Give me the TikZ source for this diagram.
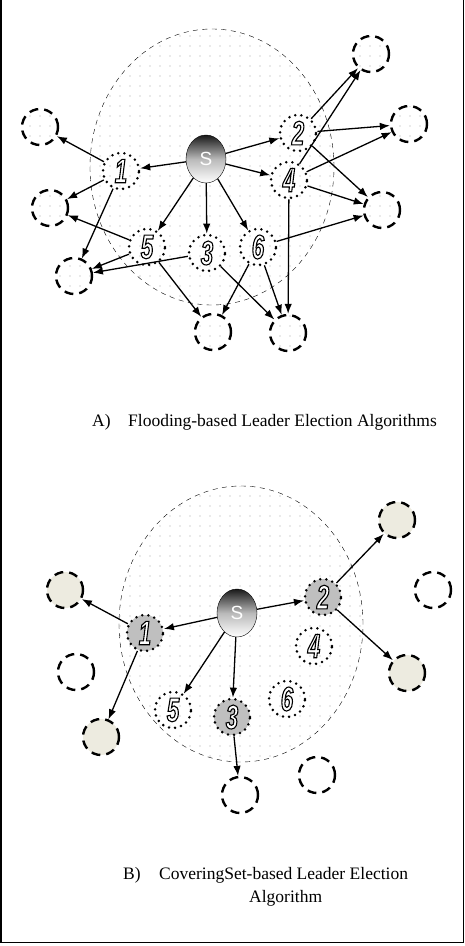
\documentclass[tikz,border=0pt]{standalone}
\usepackage{fontspec}
\setmainfont{Liberation Serif}
\newfontfamily\digitfont[FakeStretch=0.65]{Liberation Sans}
\newfontfamily\labelfont{Liberation Sans}
\usepackage{xcolor}
\usepackage{tikz}
\usetikzlibrary{shapes.geometric,arrows.meta,patterns.meta}

\definecolor{covered}{RGB}{237,235,224}
% outlined digit: white fill, black stroke
\newcommand{\digitmark}[1]{\special{pdf:literal direct 2 Tr 1.1 w 0 G}#1\special{pdf:literal direct 0 Tr}}

\begin{document}
\begin{tikzpicture}[
  x=1pt, y=-1pt,
  zone/.style={draw,ellipse,thin,dash pattern=on 5pt off 4.5pt,pattern={Dots[distance=10pt,radius=0.6pt]},pattern color=gray!70,minimum width=244pt,minimum height=276pt},
  source/.style={draw,ellipse,thin,minimum width=40pt,minimum height=48pt,inner sep=0pt,top color=black!90,bottom color=white,middle color=gray!55,text=white,font=\labelfont\fontsize{19}{19}\selectfont},
  relay/.style={draw,circle,line width=2.8pt,line cap=round,dash pattern=on 0pt off 6.2pt,minimum size=36pt,inner sep=0pt,text=white,font=\digitfont\bfseries\itshape\fontsize{34}{34}\selectfont},
  selected/.style={relay,fill=gray!50},
  far/.style={draw,circle,line width=2.4pt,dash pattern=on 9pt off 6pt,minimum size=36pt,inner sep=0pt},
  farA/.style={far,pattern={Dots[distance=10pt,radius=0.6pt]},pattern color=gray!70},
  reached/.style={far,fill=covered},
  arrow/.style={-{Latex[length=10pt,width=7.5pt]},line width=1.3pt},
  caption/.style={font=\fontsize{17.5}{21}\selectfont,inner sep=0pt,anchor=base west},
  frame/.style={line width=1.5pt},
]
\useasboundingbox (0,0) rectangle (465,946);
\draw[frame] (0.75,0) -- (0.75,942.5) -- (463.5,942.5) -- (463.5,0);

% A) flooding
\node[zone]   (zoneA) at (212,167) {};
\node[source] (sA)    at (206,159) {S};
\node[relay]  (a1)    at (121,171) {\digitmark{1}};
\node[relay]  (a2)    at (298,133) {\digitmark{2}};
\node[relay]  (a4)    at (289,180) {\digitmark{4}};
\node[relay]  (a5)    at (147,247) {\digitmark{5}};
\node[relay]  (a3)    at (207,253) {\digitmark{3}};
\node[relay]  (a6)    at (258,247) {\digitmark{6}};
\node[farA]   (oa1)   at (40,127)  {};
\node[farA]   (oa2)   at (50,208)  {};
\node[farA]   (oa3)   at (74,276)  {};
\node[farA]   (oa4)   at (213,332) {};
\node[farA]   (oa5)   at (288,333) {};
\node[farA]   (oa6)   at (382,210) {};
\node[farA]   (oa7)   at (409,124) {};
\node[farA]   (oa8)   at (371,54)  {};
\draw[arrow] (sA) -- (a1);
\draw[arrow] (sA) -- (a2);
\draw[arrow] (sA) -- (a4);
\draw[arrow] (sA) -- (a5);
\draw[arrow] (sA) -- (a3);
\draw[arrow] (sA) -- (a6);
\draw[arrow] (a1) -- (oa1);
\draw[arrow] (a1) -- (oa2);
\draw[arrow] (a1) -- (oa3);
\draw[arrow] (a5) -- (oa2);
\draw[arrow] (a5) -- (oa3);
\draw[arrow] (a5) -- (oa4);
\draw[arrow] (a3) -- (oa3);
\draw[arrow] (a3) -- (oa5);
\draw[arrow] (a6) -- (oa4);
\draw[arrow] (a6) -- (oa5);
\draw[arrow] (a6) -- (oa6);
\draw[arrow] (a2) -- (oa8);
\draw[arrow] (a2) -- (oa7);
\draw[arrow] (a2) -- (oa6);
\draw[arrow] (a4) -- (oa8);
\draw[arrow] (a4) -- (oa7);
\draw[arrow] (a4) -- (oa6);
\draw[arrow] (a4) -- (oa5);
\node[caption] (capA) at (92,426) {A)\hspace{17.5pt}Flooding-based Leader Election Algorithms};

% B) covering set
\node[zone]     (zoneB) at (241,624) {};
\node[source]   (sB)    at (237,613) {S};
\node[selected] (b1)    at (145,633) {\digitmark{1}};
\node[selected] (b2)    at (323,597) {\digitmark{2}};
\node[relay]    (b4)    at (314,646) {\digitmark{4}};
\node[relay]    (b5)    at (173,710) {\digitmark{5}};
\node[selected] (b3)    at (232,717) {\digitmark{3}};
\node[relay]    (b6)    at (287,699) {\digitmark{6}};
\node[reached]  (ob1)   at (65,590)  {};
\node[far]      (ob2)   at (76,672)  {};
\node[reached]  (ob3)   at (101,737) {};
\node[far]      (ob4)   at (240,795) {};
\node[far]      (ob5)   at (317,775) {};
\node[reached]  (ob6)   at (407,673) {};
\node[far]      (ob7)   at (433,590) {};
\node[reached]  (ob8)   at (397,520) {};
\draw[arrow] (sB) -- (b1);
\draw[arrow] (sB) -- (b2);
\draw[arrow] (sB) -- (b5);
\draw[arrow] (sB) -- (b3);
\draw[arrow] (b1) -- (ob1);
\draw[arrow] (b1) -- (ob3);
\draw[arrow] (b2) -- (ob8);
\draw[arrow] (b2) -- (ob6);
\draw[arrow] (b3) -- (ob4);
\node[caption] (capB1) at (123,879) {B)\hspace{18.5pt}CoveringSet-based Leader Election};
\node[caption] (capB2) at (249,902) {Algorithm};
\end{tikzpicture}
\end{document}
